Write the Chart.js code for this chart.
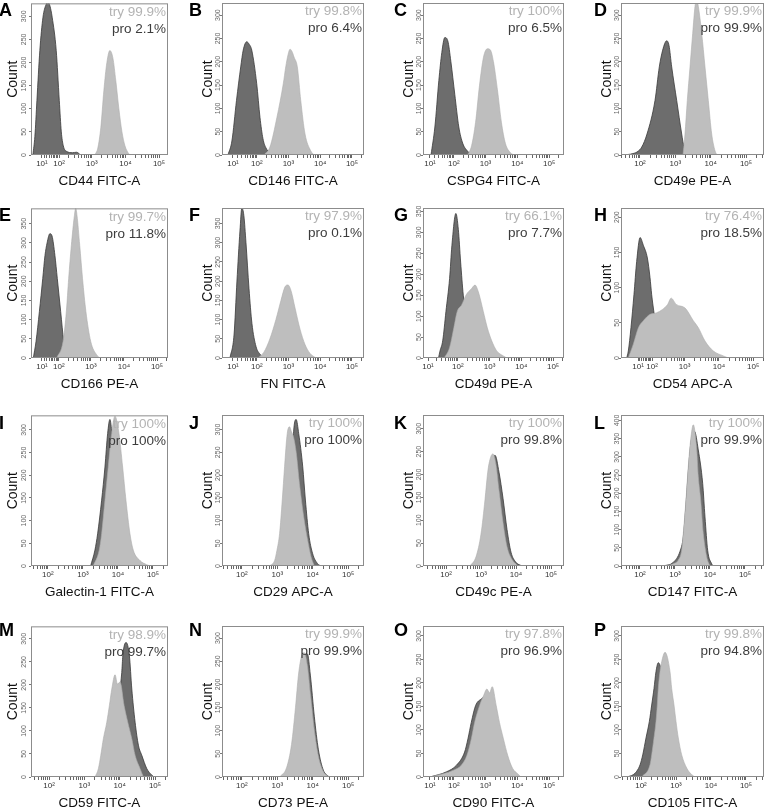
<!DOCTYPE html>
<html>
<head>
<meta charset="utf-8">
<script src="https://cdn.jsdelivr.net/npm/chart.js@4.4.1/dist/chart.umd.min.js"></script>
<style>
  html, body { margin: 0; padding: 0; background: #fff; width: 766px; height: 810px; overflow: hidden; }
  canvas { position: absolute; }
  .letter { position: absolute; font: bold 18px "Liberation Sans", Arial, sans-serif; line-height: 18px; color: #000; }
</style>
</head>
<body>
<script>
// panel labels
const letters = ['A','B','C','D','E','F','G','H','I','J','K','L','M','N','O','P'];
const xTitles = ['CD44 FITC-A','CD146 FITC-A','CSPG4 FITC-A','CD49e PE-A',
                 'CD166 PE-A','FN FITC-A','CD49d PE-A','CD54 APC-A',
                 'Galectin-1 FITC-A','CD29 APC-A','CD49c PE-A','CD147 FITC-A',
                 'CD59 FITC-A','CD73 PE-A','CD90 FITC-A','CD105 FITC-A'];
const tryLabels = ['try 99.9%','try 99.8%','try 100%','try 99.9%',
                   'try 99.7%','try 97.9%','try 66.1%','try 76.4%',
                   'try 100%','try 100%','try 100%','try 100%',
                   'try 98.9%','try 99.9%','try 97.8%','try 99.8%'];
const proLabels = ['pro 2.1%','pro 6.4%','pro 6.5%','pro 99.9%',
                   'pro 11.8%','pro 0.1%','pro 7.7%','pro 18.5%',
                   'pro 100%','pro 100%','pro 99.8%','pro 99.9%',
                   'pro 99.7%','pro 99.9%','pro 96.9%','pro 94.8%'];

// histograms: [fluorescence, count]
const tryA = [[1230,0],[1510,15],[1860,60],[2290,140],[2810,200],[3450,226],[4240,210],[5200,160],[6400,100],[7900,50],[9700,20],[12000,5],[13700,0]];
const proA = [[-25,0],[-17,40],[-9,118],[2,226],[14,298],[26,325],[35,330],[44,322],[55,298],[79,226],[101,118],[118,50],[137,20],[172,8],[265,5],[351,6],[466,0]];
const tryB = [[168,0],[261,17],[435,81],[689,153],[822,189],[971,215],[1122,227],[1297,222],[1500,210],[1905,189],[2440,117],[3330,45],[5030,9],[6390,0]];
const proB = [[1,0],[8,30],[17,117],[27,189],[34,225],[46,243],[55,238],[68,225],[99,153],[126,81],[157,35],[196,15],[262,5],[377,0]];
const tryC = [[274,0],[365,20],[487,70],[649,150],[866,210],[1155,228],[1432,225],[1778,200],[2371,140],[3162,70],[4217,25],[6043,5],[8058,0]];
const proC = [[12,0],[20,60],[30,160],[39,220],[50,252],[63,245],[80,200],[107,130],[144,60],[192,25],[275,8],[368,0]];
const tryD = [[1648,0],[1879,45],[2183,117],[2602,189],[3103,261],[3606,319],[3975,335],[4467,319],[5575,261],[6911,189],[8575,117],[10690,45],[13270,9],[15100,0]];
const proD = [[33,0],[63,3],[88,8],[112,17],[158,45],[266,117],[352,189],[439,225],[570,245],[662,235],[789,189],[1093,117],[1514,45],[1760,17],[2283,0]];
const tryE = [[84,0],[138,43],[176,121],[208,207],[252,293],[313,371],[344,390],[377,371],[457,293],[555,207],[703,121],[986,43],[1496,8],[1884,0]];
const proE = [[-24,0],[-13,43],[0,121],[13,207],[22,267],[31,300],[44,324],[55,318],[72,267],[88,207],[115,121],[145,43],[176,0]];
const tryF = [[108,0],[168,15],[261,50],[404,100],[583,150],[780,185],[971,190],[1208,175],[1614,130],[2317,75],[3330,35],[4780,12],[7380,0]];
const proF = [[4.5,0],[12,60],[18,200],[25,330],[30,390],[36,370],[43,300],[55,180],[69,90],[94,30],[126,10],[181,0]];
const tryG = [[37,0],[55,25],[75,72],[96,111],[133,127],[181,150],[274,166],[349,174],[444,158],[637,111],[853,72],[1173,41],[1683,17],[2716,5],[3475,0]];
const proG = [[24,0],[27,17],[33,41],[42,111],[55,190],[65,268],[87,345],[104,307],[123,229],[149,150],[169,119],[243,60],[375,15],[580,0]];
const tryH = [[-42,0],[-14,20],[12,43],[39,53],[83,62],[139,64],[221,69],[315,76],[401,85],[571,76],[1027,71],[1795,53],[2512,43],[3936,24],[6874,10],[13450,3],[18820,0]];
const proH = [[-52,0],[-42,10],[-27,43],[-11,90],[3,137],[21,171],[39,160],[64,142],[83,114],[96,90],[114,67],[141,40],[202,15],[309,0]];
const tryI = [[1967,0],[2923,35],[3423,71],[4252,145],[5284,218],[6607,292],[8204,330],[10680,292],[13610,218],[16920,145],[22020,71],[27350,35],[42530,12],[66070,3],[82100,0]];
const proI = [[1660,0],[2203,35],[2630,71],[3423,145],[4252,218],[5078,292],[5905,323],[6739,292],[8204,218],[10200,145],[12770,71],[17740,20],[22020,0]];
const tryJ = [[609,0],[841,12],[976,34],[1162,71],[1383,145],[1607,218],[1911,291],[2217,306],[2520,295],[2872,284],[3418,250],[4230,181],[5580,108],[7227,56],[8998,20],[11140,0]];
const proJ = [[1162,0],[1607,30],[2080,120],[2742,250],[2872,291],[3418,322],[4036,291],[5237,218],[6226,145],[7705,71],[9980,27],[13770,5],[17140,0]];
const tryK = [[485,0],[719,20],[1000,70],[1300,145],[1585,210],[1931,240],[2203,245],[2683,220],[3268,165],[4252,95],[5531,42],[7690,14],[11400,0]];
const proK = [[820,0],[1219,55],[1585,150],[2061,225],[2512,242],[3268,205],[4252,148],[5531,80],[7197,30],[10000,8],[14840,0]];
const tryL = [[579,0],[893,6],[1241,16],[1553,43],[1726,89],[2061,181],[2399,273],[2808,347],[3338,388],[4170,319],[4632,246],[5424,181],[6442,89],[8051,25],[10000,0]];
const proL = [[463,0],[893,10],[1389,40],[1726,80],[2061,170],[2399,260],[2865,340],[3606,370],[4632,319],[6180,227],[7197,135],[8590,43],[11190,6],[12420,0]];
const tryM = [[2009,0],[2492,18],[2917,47],[3451,83],[4315,119],[5108,155],[5973,191],[7413,222],[8610,202],[10260,206],[13330,155],[16950,119],[22020,83],[27300,47],[37840,18],[46900,0]];
const proM = [[3388,0],[4688,30],[6501,80],[8433,150],[11460,227],[12240,263],[15180,292],[18820,263],[22020,191],[27300,119],[33880,69],[42270,47],[58610,18],[81200,4],[94400,0]];
const tryN = [[1162,0],[1828,20],[2523,70],[3268,150],[3963,220],[4808,260],[5834,268],[7079,240],[8590,180],[11140,100],[14430,45],[19920,12],[29330,0]];
const proN = [[1607,0],[2523,40],[3484,120],[4508,200],[5834,255],[7079,266],[8590,220],[11140,130],[14430,60],[19920,15],[29330,0]];
const tryO = [[10,0],[44,7],[94,14],[173,25],[260,46],[357,81],[454,116],[652,152],[871,173],[1106,187],[1342,179],[1629,192],[2168,152],[2748,116],[3664,81],[4989,46],[7145,18],[10210,7],[13040,0]];
const proO = [[10,0],[57,11],[121,25],[220,53],[280,81],[357,116],[489,152],[738,166],[937,170],[1342,150],[2061,110],[3170,60],[4875,25],[8072,0]];
const tryP = [[105,0],[181,26],[202,47],[235,83],[268,118],[292,153],[312,188],[349,224],[390,245],[485,265],[674,224],[753,188],[877,153],[1000,118],[1164,83],[1455,47],[2023,19],[2812,5],[3491,0]];
const proP = [[39,0],[60,5],[75,12],[94,26],[112,47],[139,83],[173,118],[202,153],[235,188],[268,224],[312,243],[390,227],[485,200],[674,130],[1000,60],[1484,20],[2512,0]];

const tryData = [tryA,tryB,tryC,tryD,tryE,tryF,tryG,tryH,tryI,tryJ,tryK,tryL,tryM,tryN,tryO,tryP];
const proData = [proA,proB,proC,proD,proE,proF,proG,proH,proI,proJ,proK,proL,proM,proN,proO,proP];

// axis ranges (biexponential x: cofactor, min, max) and y max
const cofactors = [55,24,24,1, 55,24,8.5,77, 1,1,1,1, 1,1,24,1];
const xMins = [-33,-9.6,-2.4,29, -34,-9.6,5.8,-92, 33,27.5,22,28.7, 30.9,27.5,-2.4,26.8];
const xMaxs = [185000,238600,293000,323000, 215000,238600,221000,206000, 268000,281000,235000,349000, 233000,281000,293000,327000];
const yMaxs = [328,326,326,326, 390,390,358,213, 332,332,330,415, 327,326,321,321];

const xMajor = [10, 100, 1000, 10000, 100000];
const xTickText = {10: '10¹', 100: '10²', 1000: '10³', 10000: '10⁴', 100000: '10⁵'};

const fontFam = "'Liberation Sans', Arial, Helvetica, sans-serif";
const colBox = [[31,168],[222,364],[423,564],[621,764]];
const rowBox = [[3,155],[208,358],[415,566],[626,777]];
const letterX = [-1,189,394,594];
const letterY = [1,206,414,621];
const yTickPad = [-0.85,-4.15,-4.15,-4.15];
const yTitlePad = [4.9,8.6,8.6,8.6];

// tick positions: decades plus minor multiples
const xTicks = [];
xMajor.forEach(d => { for (let m = 1; m <= 9; m++) xTicks.push(d * m); });

class BiexScale extends Chart.LinearScale {
    static id = 'biex';
    static defaults = {};
    tf(v) { return Math.asinh(v / this.options.cofactor); }
    getPixelForValue(v) {
        const a = this.tf(this.min), b = this.tf(this.max);
        return this.getPixelForDecimal((this.tf(v) - a) / (b - a));
    }
    getValueForPixel(p) {
        const a = this.tf(this.min), b = this.tf(this.max);
        return this.options.cofactor * Math.sinh(a + this.getDecimalForPixel(p) * (b - a));
    }
}
Chart.register(BiexScale);

const frame = {
    id: 'frame',
    afterDatasetsDraw(chart, args, opts) {
        const {ctx, chartArea: a} = chart;
        ctx.save();
        ctx.strokeStyle = '#8c8c8c';
        ctx.lineWidth = 1;
        ctx.strokeRect(a.left + 0.5, a.top + 0.5, a.right - a.left - 1, a.bottom - a.top - 1);
        ctx.font = '13.5px ' + fontFam;
        ctx.textAlign = 'right';
        ctx.textBaseline = 'middle';
        ctx.fillStyle = '#b3b3b3';
        ctx.fillText(opts.tryTxt, a.right - 2, a.top + 8.5);
        ctx.fillStyle = '#3c3c3c';
        ctx.fillText(opts.proTxt, a.right - 2, a.top + 25.5);
        ctx.restore();
    }
};

letters.forEach((letter, i) => {
    const col = i % 4, row = Math.floor(i / 4);
    const [bx0, bx1] = colBox[col];
    const [by0, by1] = rowBox[row];
    const W = (bx1 - bx0) + 34, H = (by1 - by0) + 43;

    const cv = document.createElement('canvas');
    cv.width = W; cv.height = H;
    cv.style.left = (bx0 - 31) + 'px';
    cv.style.top = (by0 - 3) + 'px';
    cv.style.width = W + 'px';
    cv.style.height = H + 'px';
    document.body.appendChild(cv);

    const lab = document.createElement('div');
    lab.className = 'letter';
    lab.textContent = letter;
    lab.style.left = letterX[col] + 'px';
    lab.style.top = letterY[row] + 'px';
    document.body.appendChild(lab);

    new Chart(cv, {
        type: 'line',
        data: {
            datasets: [{
                label: 'try',
                data: tryData[i].map(([x, y]) => ({x, y})),
                order: 0,
                fill: 'origin',
                backgroundColor: '#bebebe',
                borderColor: '#adadad',
                borderWidth: 0.6,
                pointRadius: 0,
                cubicInterpolationMode: 'monotone'
            }, {
                label: 'pro',
                data: proData[i].map(([x, y]) => ({x, y})),
                order: 1,
                fill: 'origin',
                backgroundColor: '#6d6d6d',
                borderColor: '#3a3a3a',
                borderWidth: 0.8,
                pointRadius: 0,
                cubicInterpolationMode: 'monotone'
            }]
        },
        options: {
            responsive: false,
            devicePixelRatio: 1,
            animation: false,
            events: [],
            layout: { padding: { top: 3, right: 3, left: 0, bottom: 0 } },
            plugins: {
                legend: { display: false },
                tooltip: { enabled: false },
                frame: { tryTxt: tryLabels[i], proTxt: proLabels[i] }
            },
            scales: {
                x: {
                    type: 'biex',
                    cofactor: cofactors[i],
                    min: xMins[i],
                    max: xMaxs[i],
                    bounds: 'data',
                    afterFit: s => { s.height = 40; },
                    afterBuildTicks: s => {
                        s.ticks = xTicks.filter(v => v > s.min && v < s.max).map(v => ({value: v}));
                    },
                    ticks: {
                        autoSkip: false,
                        minRotation: 0,
                        maxRotation: 0,
                        padding: 1,
                        color: '#333',
                        font: { size: 8, family: fontFam },
                        callback: v => xTickText[v] || ''
                    },
                    grid: { drawOnChartArea: false, tickLength: 3, color: '#666' },
                    border: { display: false },
                    title: {
                        display: true,
                        text: xTitles[i],
                        color: '#111',
                        font: { size: 13.5, family: fontFam },
                        padding: { top: 0, bottom: 6 }
                    }
                },
                y: {
                    type: 'linear',
                    min: 0,
                    max: yMaxs[i],
                    bounds: 'data',
                    afterFit: s => { s.width = 31; },
                    afterBuildTicks: s => {
                        s.ticks = s.ticks.filter(t => t.value % 50 === 0);
                    },
                    ticks: {
                        stepSize: 50,
                        includeBounds: false,
                        autoSkip: false,
                        minRotation: 90,
                        maxRotation: 90,
                        crossAlign: 'center',
                        padding: yTickPad[col],
                        color: '#666',
                        font: { size: 7, family: fontFam }
                    },
                    grid: { drawOnChartArea: false, tickLength: 2, color: '#777' },
                    border: { display: false },
                    title: {
                        display: true,
                        text: 'Count',
                        color: '#111',
                        font: { size: 14, family: fontFam },
                        padding: { top: yTitlePad[col], bottom: 0 }
                    }
                }
            }
        },
        plugins: [frame]
    });
});
</script>
</body>
</html>
